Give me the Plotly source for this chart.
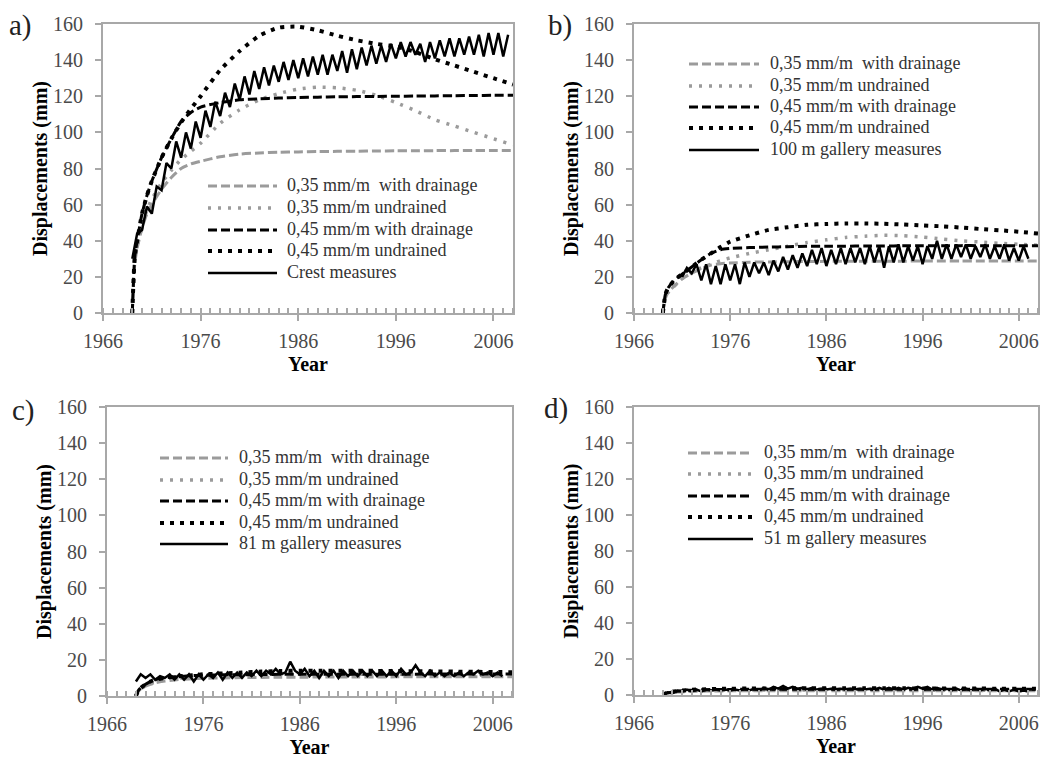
import plotly.graph_objects as go

# ---------------- data ----------------
MODEL_YEARS = [1969, 1969.25, 1969.5, 1970, 1970.5, 1971, 1972, 1973, 1974, 1975, 1976,
               1978, 1980, 1982, 1984, 1986, 1988, 1990, 1992, 1994, 1996, 1998, 2000,
               2002, 2004, 2006, 2008]

# panel a) crest
a_035_drain = [0, 27, 36, 47, 55, 60, 68.5, 75, 80, 82.5, 84, 86.5, 88, 88.6, 89, 89.2,
               89.4, 89.5, 89.6, 89.7, 89.8, 89.8, 89.9, 89.9, 90, 90, 90]
a_035_undr = [0, 28, 37, 48, 57, 63, 72, 79, 85, 89.5, 94, 105, 112.5, 118, 121.5, 124,
              125, 124.7, 123.3, 120.5, 116.5, 112, 107, 103.5, 100, 96.5, 93]
a_045_drain = [0, 31, 40, 55, 65, 73, 86, 96.5, 106, 111, 114, 116.5, 118, 118.6, 119,
               119.3, 119.5, 119.7, 119.8, 119.9, 120, 120.1, 120.2, 120.3, 120.4, 120.5, 120.5]
a_045_undr = [0, 31, 40, 55, 65, 73, 86, 96.5, 105.5, 113, 120, 134.5, 145, 153.5, 158,
              158.5, 156.5, 153.5, 151, 149, 147.5, 144.5, 140.5, 137, 133.5, 130, 126.5]

# panel b) 100 m gallery
b_035_drain = [0, 8, 11, 14, 16.5, 19, 22, 24.5, 26.5, 27.3, 27.7, 28.1, 28.3, 28.4, 28.5,
               28.6, 28.6, 28.7, 28.7, 28.7, 28.8, 28.8, 28.8, 28.8, 28.8, 28.8, 28.8]
b_035_undr = [0, 8, 11, 14, 16.5, 19, 22.5, 25, 27, 29, 30.5, 33, 35, 37, 39, 40.5, 41.8,
              42.5, 43, 42.8, 42, 41, 40, 39.3, 38.6, 38, 37.5]
b_045_drain = [0, 10, 13.5, 17, 19.5, 21.5, 25.5, 29.5, 33, 35, 35.7, 36.2, 36.5, 36.7,
               36.9, 37, 37, 37.1, 37.1, 37.2, 37.2, 37.2, 37.3, 37.3, 37.3, 37.3, 37.3]
b_045_undr = [0, 10, 13.5, 17, 19.5, 21.5, 25.5, 29.5, 33, 36.5, 39.5, 43, 46, 47.5, 48.8,
              49.3, 49.6, 49.6, 49.4, 49, 48.5, 48, 47.3, 46.5, 45.8, 45, 44]

# panel c) 81 m gallery
c_035_drain = [0, 2.5, 4, 5.5, 6.5, 7.3, 8.3, 8.9, 9.3, 9.6, 9.8, 10, 10.2, 10.3, 10.4,
               10.4, 10.5, 10.5, 10.5, 10.5, 10.6, 10.6, 10.6, 10.6, 10.6, 10.6, 10.6]
c_035_undr = [0, 2.5, 4, 5.5, 6.8, 7.7, 8.8, 9.5, 10, 10.4, 10.7, 11.2, 11.6, 11.9, 12.1,
              12.2, 12.2, 12.2, 12.1, 12.1, 12, 11.9, 11.8, 11.7, 11.5, 11.4, 11.3]
c_045_drain = [0, 3, 4.5, 6.5, 8, 9, 10, 10.6, 11, 11.3, 11.5, 11.7, 11.8, 11.9, 12, 12,
               12, 12, 12.1, 12.1, 12.1, 12.1, 12.2, 12.2, 12.2, 12.2, 12.2]
c_045_undr = [0, 3, 4.5, 6.5, 8, 9, 10, 10.7, 11.2, 11.6, 12, 12.5, 13, 13.5, 13.8, 14,
              14, 14, 14, 13.9, 13.8, 13.7, 13.6, 13.5, 13.4, 13.3, 13.2]

# panel d) 51 m gallery
d_035_drain = [0, 0.6, 0.9, 1.3, 1.6, 1.8, 2.0, 2.1, 2.2, 2.2, 2.3, 2.3, 2.3, 2.3, 2.3,
               2.3, 2.3, 2.3, 2.3, 2.3, 2.3, 2.3, 2.3, 2.3, 2.3, 2.3, 2.3]
d_035_undr = [0, 0.7, 1.0, 1.5, 1.8, 2.0, 2.3, 2.5, 2.6, 2.7, 2.7, 2.8, 2.8, 2.8, 2.8,
              2.8, 2.8, 2.8, 2.8, 2.7, 2.7, 2.7, 2.7, 2.6, 2.6, 2.6, 2.6]
d_045_drain = [0, 0.8, 1.2, 1.7, 2.1, 2.4, 2.7, 2.9, 3.0, 3.1, 3.1, 3.2, 3.2, 3.2, 3.2,
               3.2, 3.2, 3.2, 3.2, 3.2, 3.2, 3.2, 3.2, 3.2, 3.2, 3.2, 3.2]
d_045_undr = [0, 0.8, 1.2, 1.8, 2.2, 2.5, 2.9, 3.1, 3.3, 3.4, 3.5, 3.6, 3.6, 3.7, 3.7,
              3.7, 3.7, 3.7, 3.7, 3.7, 3.6, 3.6, 3.6, 3.6, 3.5, 3.5, 3.5]

# measurements (half-year readings from 1969.0)
MEAS_START = 1969.0
crest_meas = [30, 44, 46, 59, 55, 70, 68, 83, 80, 95, 86, 100, 91, 106, 97, 112, 103, 117,
              109, 122, 114, 127, 118, 131, 121, 134, 124, 136, 126, 137, 128, 139, 129, 140,
              130, 141, 131, 142, 132, 143, 132, 143, 134, 145, 133, 146, 135, 147, 137, 148,
              138, 148, 139, 149, 141, 150, 142, 150, 143, 149, 139, 150, 141, 151, 142, 152,
              142, 152, 143, 153, 143, 154, 142, 155, 143, 155, 142, 154]
gal100_meas = [None, None, None, None, 20, 25, 22, 27, 18, 27, 16, 26, 16, 27, 18, 27, 16,
               28, 20, 28, 22, 28, 21, 29, 23, 31, 24, 32, 25, 33, 26, 35, 27, 36, 26, 35,
               27, 36, 27, 36, 28, 36, 27, 37, 28, 37, 25, 37, 28, 38, 28, 37, 29, 37, 27,
               37, 30, 40, 30, 38, 30, 38, 31, 38, 30, 37, 31, 38, 30, 37, 30, 38, 29, 36,
               29, 37, 30]
gal81_meas = [8, 12, 10, 12, 9, 11, 10, 12, 9, 12, 9, 12, 8, 12, 9, 12, 10, 13, 9, 13, 10,
              13, 10, 13, 11, 14, 11, 14, 12, 15, 12, 13, 19, 14, 12, 15, 11, 14, 10, 14,
              11, 14, 10, 14, 11, 14, 11, 14, 11, 14, 11, 14, 11, 14, 11, 15, 12, 13, 17,
              13, 11, 14, 11, 13, 11, 13, 11, 13, 11, 13, 12, 14, 12, 13, 11, 13, 11]
gal51_meas = [0.5, 1.5, 1, 2.5, 2, 3, 2, 3, 2, 3, 2.5, 3, 2.5, 3, 2.5, 3, 2.5, 3.5, 2.5,
              3.5, 2.5, 4, 3, 4.5, 3.5, 5, 3.5, 4.5, 3.5, 4, 3, 4, 3, 3.5, 3, 3.5, 3, 3.5,
              3, 3.5, 3, 3.5, 3, 3.5, 3, 4, 3, 4, 3, 4, 3, 4, 3.5, 4.5, 3.5, 4.5, 3, 4, 3,
              3.5, 2.5, 3.5, 2.5, 3.5, 2.5, 3.5, 2.5, 3.5, 2.5, 3.5, 2, 3, 2, 3, 2, 2.5, 2]

LEGEND_NAMES = ["0,35 mm/m  with drainage", "0,35 mm/m undrained",
                "0,45 mm/m with drainage", "0,45 mm/m undrained"]
MEAS_NAMES = ["Crest measures", "100 m gallery measures",
              "81 m gallery measures", "51 m gallery measures"]
PANEL_LABELS = ["a)", "b)", "c)", "d)"]

# ---------------- styles ----------------
GRAY = "#9b9b9b"
FRAME = "#a8a8a8"
SERIF = "Liberation Serif"
model_styles = [
    dict(color=GRAY, width=3, dash="9px,4px"),
    dict(color=GRAY, width=3.5, dash="3px,7px"),
    dict(color="black", width=3, dash="9px,4px"),
    dict(color="black", width=4, dash="4px,6px"),
]
meas_style = dict(color="black", width=2.5)

panels = [
    (a_035_drain, a_035_undr, a_045_drain, a_045_undr, crest_meas),
    (b_035_drain, b_035_undr, b_045_drain, b_045_undr, gal100_meas),
    (c_035_drain, c_035_undr, c_045_drain, c_045_undr, gal81_meas),
    (d_035_drain, d_035_undr, d_045_drain, d_045_undr, gal51_meas),
]

W, H = 1046, 760


def fx(px):
    return px / W


def fy(py):
    return 1 - py / H


# plot areas in page pixels: (left, right, top, bottom)
areas = [(103, 513, 24, 313), (634, 1038, 24, 313), (107, 512, 407, 696), (634, 1038, 407, 695)]
# legend: sample x0, x1, text x, row y's
legends = [
    (208, 277, 285, [185, 207, 229, 250, 272]),
    (689, 759, 768, [63, 85, 106, 127, 149]),
    (160, 228, 237, [457, 479, 500, 522, 543]),
    (688, 753, 762, [452, 473, 495, 516, 538]),
]
label_pos = [(20, 26), (560, 25), (23, 411), (556, 409)]

fig = go.Figure()
meas_years_full = [MEAS_START + 0.5 * i for i in range(80)]

for k, series in enumerate(panels):
    xa = "x" if k == 0 else f"x{k+1}"
    ya = "y" if k == 0 else f"y{k+1}"
    for j in range(4):
        fig.add_trace(go.Scatter(
            x=MODEL_YEARS, y=series[j], mode="lines", name=LEGEND_NAMES[j],
            line=dict(shape="spline", smoothing=0.6, **model_styles[j]),
            xaxis=xa, yaxis=ya, showlegend=False))
    meas = series[4]
    fig.add_trace(go.Scatter(
        x=meas_years_full[:len(meas)], y=meas, mode="lines", name=MEAS_NAMES[k],
        line=meas_style, xaxis=xa, yaxis=ya, showlegend=False, connectgaps=False))

layout = dict(
    width=W, height=H, margin=dict(l=0, r=0, t=0, b=0),
    paper_bgcolor="white", plot_bgcolor="white",
    font=dict(family=SERIF, color="#333"), showlegend=False,
)

for k, (l, r, t, b) in enumerate(areas):
    sx = "" if k == 0 else str(k + 1)
    layout[f"xaxis{sx}"] = dict(
        domain=[fx(l), fx(r)], anchor=f"y{sx}", range=[1966, 2008],
        tickmode="linear", tick0=1966, dtick=10,
        ticks="outside", ticklen=6, tickwidth=1.5, tickcolor=FRAME,
        minor=dict(tick0=1966, dtick=1, ticks="inside", ticklen=5, tickwidth=1.5, tickcolor=FRAME),
        showline=True, linecolor=FRAME, linewidth=2, mirror=True,
        showgrid=False, zeroline=False, automargin=False, ticklabelstandoff=3,
        ticklabeloverflow="allow",
        tickfont=dict(family=SERIF, size=20, color="#4a4a4a"),
        title=dict(text="<b>Year</b>", font=dict(family=SERIF, size=20, color="black"), standoff=6),
    )
    layout[f"yaxis{sx}"] = dict(
        domain=[fy(b), fy(t)], anchor=f"x{sx}", range=[0, 160],
        tickmode="linear", tick0=0, dtick=20,
        ticks="outside", ticklen=6, tickwidth=1.5, tickcolor=FRAME,
        showline=True, linecolor=FRAME, linewidth=2, mirror=True,
        showgrid=False, zeroline=False, automargin=False, ticklabelstandoff=8,
        ticklabeloverflow="allow",
        tickfont=dict(family=SERIF, size=20, color="#4a4a4a"),
        title=dict(text="<b>Displacements (mm)</b>", font=dict(family=SERIF, size=20, color="black"), standoff=0),
    )

fig.update_layout(**layout)

# legends drawn as sample lines + text
all_names = [LEGEND_NAMES + [MEAS_NAMES[k]] for k in range(4)]
sample_styles = model_styles + [meas_style]
for k, (sx0, sx1, tx, rows) in enumerate(legends):
    for j, ry in enumerate(rows):
        st = sample_styles[j]
        fig.add_shape(type="line", xref="paper", yref="paper",
                      x0=fx(sx0), x1=fx(sx1), y0=fy(ry + 1), y1=fy(ry + 1),
                      line=dict(color=st["color"], width=st["width"], dash=st.get("dash", "solid")))
        fig.add_annotation(x=fx(tx), y=fy(ry), xref="paper", yref="paper",
                           text=all_names[k][j], showarrow=False,
                           font=dict(family=SERIF, size=18, color="#333"),
                           xanchor="left", yanchor="middle")

for k, (px, py) in enumerate(label_pos):
    fig.add_annotation(x=fx(px), y=fy(py), xref="paper", yref="paper",
                       text=PANEL_LABELS[k], showarrow=False,
                       font=dict(family=SERIF, size=29, color="#222"),
                       xanchor="center", yanchor="middle")

# remove the default 8px page margin so the 1046x760 figure fills the window
fig.write_html("out.html", config={"displayModeBar": False},
               post_script="document.body.style.margin='0px';document.body.style.overflow='hidden';")
